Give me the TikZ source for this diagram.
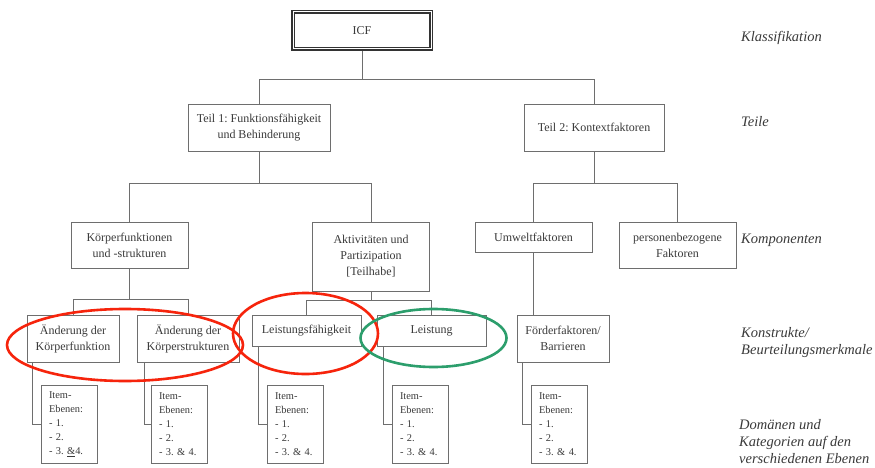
\documentclass[tikz,border=0pt]{standalone}
\usepackage{fontspec}
\setmainfont{Liberation Serif}
\usepackage{tikz}
\frenchspacing
\definecolor{white}{rgb}{1.0, 1.0, 1.0}
\definecolor{boxgray}{RGB}{110,110,110}
\definecolor{textgray}{RGB}{58,58,58}
\definecolor{markred}{RGB}{246,36,12}
\definecolor{markgreen}{RGB}{44,158,108}
\pgfdeclarelayer{edgelayer}
\pgfdeclarelayer{nodelayer}
\pgfsetlayers{edgelayer,nodelayer,main}
\tikzstyle{box}=[rectangle,fill=white,draw=boxgray,line width=0.8pt,text=textgray,align=center,inner sep=0pt,font=\fontsize{12}{16}\selectfont]
\tikzstyle{itembox}=[box,align=left,text width=40pt,inner xsep=8pt,minimum width=56pt,minimum height=78pt,font=\fontsize{10.4}{14}\selectfont]
\tikzstyle{level}=[anchor=west,inner sep=0pt,text=textgray,align=left,font=\fontsize{14.5}{17}\selectfont\itshape]
\tikzstyle{edge}=[draw=boxgray,line width=0.8pt]
\tikzstyle{ring}=[line width=2.6pt]

\begin{document}
\begin{tikzpicture}[x=1pt,y=-1pt]
        \useasboundingbox (0,0) rectangle (875,468);
        \begin{pgfonlayer}{nodelayer}
            \node [style = box, draw=black!80, line width=1.5pt, double=white, double distance=1pt, minimum width=138pt, minimum height=37pt] (icf) at (362, 30.5) {ICF};

            \node [style = box, minimum width=142pt, minimum height=47pt] (teil1) at (259, 127.5) {Teil 1: Funktionsfähigkeit\\und Behinderung};
            \node [style = box, minimum width=140pt, minimum height=47pt] (teil2) at (594, 127.5) {Teil 2: Kontextfaktoren};

            \node [style = box, minimum width=117pt, minimum height=46pt] (koerper) at (129.5, 245) {Körperfunktionen\\und -strukturen};
            \node [style = box, minimum width=117pt, minimum height=69pt] (aktiv) at (371, 256.5) {Aktivitäten und\\Partizipation\\{[}Teilhabe{]}};
            \node [style = box, minimum width=117pt, minimum height=30pt] (umwelt) at (533.5, 237) {Umweltfaktoren};
            \node [style = box, minimum width=117pt, minimum height=46pt] (personen) at (677.5, 245) {personenbezogene\\Faktoren};

            \node [style = box, minimum width=92pt, minimum height=47pt] (aekf) at (73, 338.5) {Änderung der\\Körperfunktion};
            \node [style = box, minimum width=102pt, minimum height=47pt] (aeks) at (188, 338.5) {Änderung der\\Körperstrukturen};
            \node [style = box, minimum width=109pt, minimum height=31pt] (lfaeh) at (306.5, 331) {Leistungsfähigkeit};
            \node [style = box, minimum width=109pt, minimum height=31pt] (leist) at (431.5, 331) {Leistung};
            \node [style = box, minimum width=92pt, minimum height=47pt] (foerder) at (563, 338.5) {Förderfaktoren/\\Barrieren};

            \node [style = itembox] (item1) at (69, 424) {Item-\\Ebenen:\\- 1.\\- 2.\\- 3. \underline{\&}4.};
            \node [style = itembox] (item2) at (179, 424) {Item-\\Ebenen:\\- 1.\\- 2.\\- 3. \& 4.};
            \node [style = itembox] (item3) at (295, 424) {Item-\\Ebenen:\\- 1.\\- 2.\\- 3. \& 4.};
            \node [style = itembox] (item4) at (420, 424) {Item-\\Ebenen:\\- 1.\\- 2.\\- 3. \& 4.};
            \node [style = itembox] (item5) at (559, 424) {Item-\\Ebenen:\\- 1.\\- 2.\\- 3. \& 4.};

            \node [style = level] (klass) at (741, 38) {Klassifikation};
            \node [style = level] (teile) at (741, 122) {Teile};
            \node [style = level] (kompo) at (741, 240) {Komponenten};
            \node [style = level] (konstr) at (741, 343) {Konstrukte/\\Beurteilungsmerkmale};
            \node [style = level] (domaen) at (739, 442) {Domänen und\\Kategorien auf den\\verschiedenen Ebenen};
        \end{pgfonlayer}

        \begin{pgfonlayer}{edgelayer}
            \fill [white] (0,0) rectangle (875,468);

            \draw [style = edge] (icf.south) -- ++(0,30) -| (teil1.north);
            \draw [style = edge] (icf.south) -- ++(0,30) -| (teil2.north);

            \draw [style = edge] (teil1.south) -- ++(0,32) -| (koerper.north);
            \draw [style = edge] (teil1.south) -- ++(0,32) -| (aktiv.north);
            \draw [style = edge] (teil2.south) -- ++(0,32) -| (umwelt.north);
            \draw [style = edge] (teil2.south) -- ++(0,32) -| (personen.north);

            \draw [style = edge] (koerper.south) -- ++(0,31) -| (aekf.north);
            \draw [style = edge] (koerper.south) -- ++(0,31) -| (aeks.north);
            \draw [style = edge] (aktiv.south) -- ++(0,9) -| (lfaeh.north);
            \draw [style = edge] (aktiv.south) -- ++(0,9) -| (leist.north);
            \draw [style = edge] (umwelt.south) -- (umwelt.south |- foerder.north);

            \draw [style = edge] ([xshift=6pt]aekf.south west) |- (item1.west);
            \draw [style = edge] ([xshift=8pt]aeks.south west) |- (item2.west);
            \draw [style = edge] ([xshift=7pt]lfaeh.south west) |- (item3.west);
            \draw [style = edge] ([xshift=7pt]leist.south west) |- (item4.west);
            \draw [style = edge] ([xshift=6pt]foerder.south west) |- (item5.west);
        \end{pgfonlayer}

        \draw [style = ring, markred] (125, 345) ellipse [x radius=118pt, y radius=36pt];
        \draw [style = ring, markred] (305.5, 333.5) ellipse [x radius=72.5pt, y radius=40.5pt];
        \draw [style = ring, markgreen] (433.5, 338) ellipse [x radius=73pt, y radius=29pt];
    \end{tikzpicture}
\end{document}
